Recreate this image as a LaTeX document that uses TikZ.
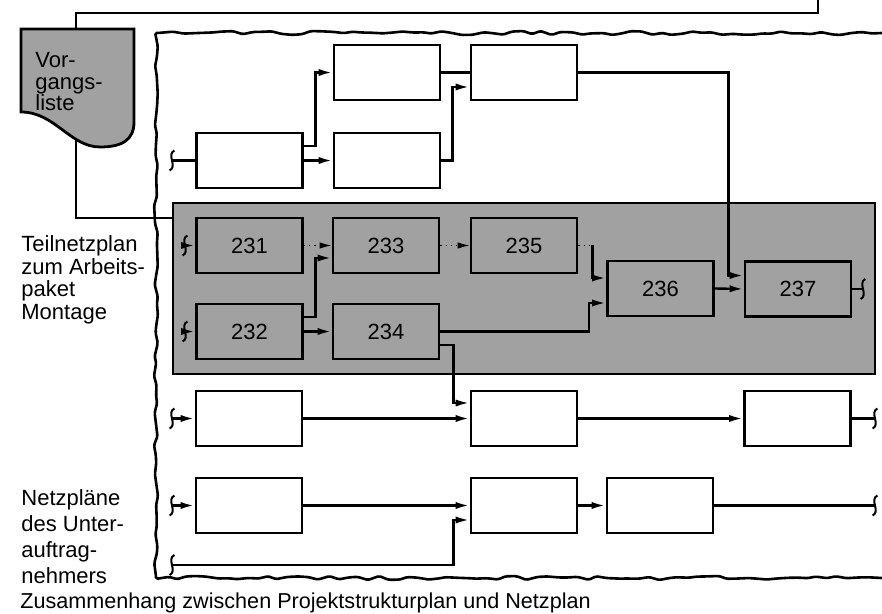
\documentclass[tikz,border=0pt]{standalone}
\usepackage{fontspec}
\setmainfont{Liberation Sans}
\usetikzlibrary{arrows.meta,decorations.pathmorphing}
\definecolor{shade}{gray}{0.63}

\begin{document}
\begin{tikzpicture}[x=0.5pt,y=-0.5pt,
  box/.style={draw,line width=1.4pt,minimum width=53pt,minimum height=27.5pt,inner sep=0pt,font=\fontsize{11}{13}\selectfont},
  grbox/.style={box,fill=shade},
  con/.style={line width=1.2pt},
  arr/.style={con,-{Latex[length=7pt,width=3.6pt]}},
  dots/.style={line width=0.6pt,dotted},
  torn/.style={line width=1.3pt,decorate,decoration={random steps,segment length=5pt,amplitude=1pt},rounded corners=0.8pt},
  lbl/.style={anchor=north west,align=left,inner sep=0pt},
  brk/.pic={\draw[line width=1pt] (1.2pt,5pt) .. controls (-3pt,3pt) and (3pt,-3pt) .. (-1.2pt,-5pt);}]
\pgfmathsetseed{7}
\useasboundingbox (0,0) rectangle (882,614);
\draw[torn] (882,33) -- (156,33) -- (156,578) -- (882,578);
\node[draw,fill=shade,line width=0.8pt,minimum width=351pt,minimum height=85.5pt,inner sep=0pt] (mont) at (524,288.5) {};
\coordinate (top) at (818,0);
\draw[con] ([yshift=35.25pt]mont.west) -| (76,13) -- (818,13) -- (top);
\draw[line width=1.4pt,fill=shade] (21,29) -- (134,29) -- (134,122) .. controls (134,140) and (122,147) .. (100,147) .. controls (70,147) and (55,112) .. (21,112) -- cycle;
\node[lbl,font=\fontsize{11}{10.8}\selectfont] (vl) at (35,52) {Vor-\\gangs-\\liste};
\node[box] (a) at (387,72.5) {}; \node[box] (c) at (524,72.5) {};
\node[box] (h) at (249.5,160.5) {}; \node[box] (b) at (387,160.5) {};
\node[grbox] (n231) at (249.5,245.5) {231}; \node[grbox] (n233) at (386,245.5) {233};
\node[grbox] (n235) at (524,245.5) {235};
\node[grbox] (n232) at (249.5,331.5) {232}; \node[grbox] (n234) at (386,331.5) {234};
\node[grbox] (n236) at (660.5,288.5) {236}; \node[grbox] (n237) at (798,289) {237};
\node[box] (d1) at (249,418.5) {}; \node[box] (d2) at (524,418.5) {};
\node[box] (d3) at (797.5,418.5) {};
\node[box] (e1) at (249,505.5) {}; \node[box] (e2) at (524,505.5) {};
\node[box] (e3) at (660,505.5) {};
\coordinate (inh) at (172,160.5); \coordinate (in231) at (185,245.5);
\coordinate (in232) at (185,331.5); \coordinate (out237) at (863,289);
\coordinate (ind1) at (172,418.5); \coordinate (outd3) at (875,418.5);
\coordinate (ine1) at (172,505.5); \coordinate (oute3) at (875,505.5);
\coordinate (in3) at (172,565);
\draw[con] (inh) -- (h.west);
\draw[arr] ([yshift=7.25pt]h.east) -| ([xshift=-8.5pt]a.west) -- (a.west);
\draw[arr] (h.east) -- (b.west);
\draw[con] (a.east) -- (c.west);
\draw[arr] (b.east) -| ([xshift=-8.5pt,yshift=-7.25pt]c.west) -- ([yshift=-7.25pt]c.west);
\draw[arr] (c.east) -| ([xshift=-7.5pt,yshift=6.75pt]n237.west) -- ([yshift=6.75pt]n237.west);
\draw[arr] (in231) -- (n231.west);
\draw[arr] (in232) -- (n232.west);
\draw[dots,-{Latex[length=6pt,width=3.2pt]}] (n231.east) -- (n233.west);
\draw[dots,-{Latex[length=6pt,width=3.2pt]}] (n233.east) -- (n235.west);
\draw[arr] ([yshift=7.25pt]n232.east) -| ([xshift=-8pt,yshift=-6.25pt]n233.west) -- ([yshift=-6.25pt]n233.west);
\draw[arr] (n232.east) -- (n234.west);
\draw[dots] (n235.east) -- ++(7pt,0) coordinate (k235);
\draw[arr] (k235) |- ([yshift=5.25pt]n236.west);
\draw[arr] (n234.east) -| ([xshift=-8.5pt,yshift=-7.25pt]n236.west) -- ([yshift=-7.25pt]n236.west);
\draw[arr] (n236.east) -- (n237.west);
\draw[con] (n237.east) -- (out237);
\draw[arr] ([yshift=-6.75pt]n234.east) -| ([xshift=-8pt,yshift=7.75pt]d2.west) -- ([yshift=7.75pt]d2.west);
\draw[arr] (ind1) -- (d1.west);
\draw[arr] (d1.east) -- (d2.west);
\draw[arr] (d2.east) -- (d3.west);
\draw[con] (d3.east) -- (outd3);
\draw[arr] (ine1) -- (e1.west);
\draw[arr] (e1.east) -- (e2.west);
\draw[arr] (e2.east) -- (e3.west);
\draw[con] (e3.east) -- (oute3);
\draw[arr] (in3) -| ([xshift=-8pt,yshift=-7.25pt]e2.west) -- ([yshift=-7.25pt]e2.west);
\foreach \p in {inh,in231,in232,out237,ind1,outd3,ine1,oute3,in3} \pic at (\p) {brk};
\node[lbl,font=\fontsize{11}{11.4}\selectfont] (tnp) at (21,235) {Teilnetzplan\\zum Arbeits-\\paket\\Montage};
\node[lbl,font=\fontsize{11}{13}\selectfont] (npu) at (21,489) {Netzpläne\\des Unter-\\auftrag-\\nehmers};
\node[lbl,font=\fontsize{10.8}{13}\selectfont] (cap) at (20,592) {Zusammenhang zwischen Projektstrukturplan und Netzplan};
\end{tikzpicture}
\end{document}
